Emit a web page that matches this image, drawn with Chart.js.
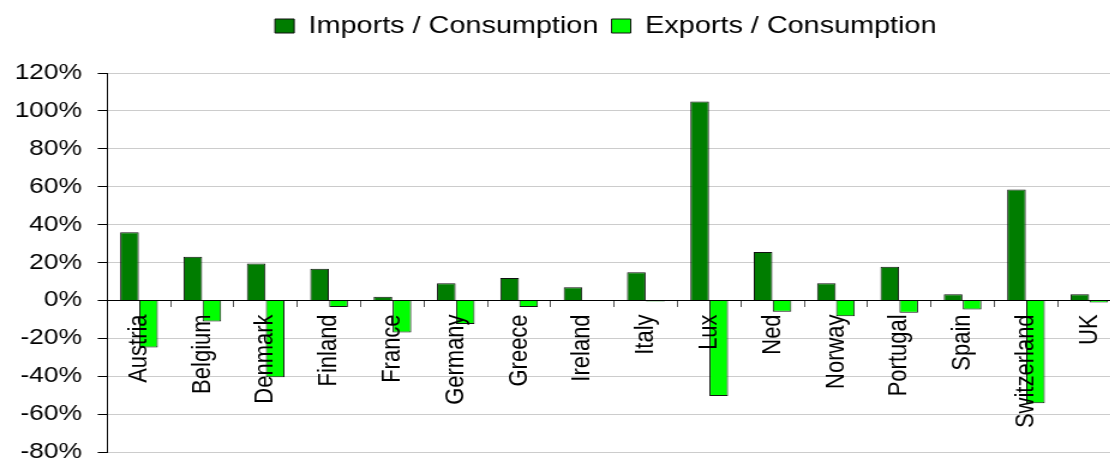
<!DOCTYPE html>
<html>
<head>
<meta charset="utf-8">
<script src="https://cdn.jsdelivr.net/npm/chart.js@4/dist/chart.umd.min.js"></script>
<style>
  html, body { margin: 0; padding: 0; background: #fff; overflow: hidden; }
  #tradeChart { display: block; }
</style>
</head>
<body>
<!-- the original picture is stretched sideways, so the canvas is drawn narrow and widened by css -->
<canvas id="tradeChart" width="934" height="461" style="width:1120.8px;height:461px"></canvas>
<script>
const countries = ["Austria", "Belgium", "Denmark", "Finland", "France", "Germany", "Greece", "Ireland",
    "Italy", "Lux", "Ned", "Norway", "Portugal", "Spain", "Switzerland", "UK"];

// percent of consumption
const importsShare = [36, 23, 19.5, 16.7, 1.9, 9.1, 11.8, 6.9, 14.8, 104.9, 25.6, 9.1, 17.7, 3.2, 58.5, 3.2];
const exportsShare = [-24.8, -11.1, -40.6, -3.5, -16.9, -12.5, -3.5, 0, -0.6, -50.5, -6, -8.3, -6.5, -4.8, -54.3, -1.1];

// y axis ticks
const yMin = -80;
const yMax = 120;
const yStep = 20;

const FONT = "'Liberation Sans', Arial, Helvetica, sans-serif";

// extra room under the legend, and nudge it a bit left
const legendTweak = {
    id: "legendTweak",
    beforeInit(chart) {
        const fit = chart.legend.fit;
        chart.legend.fit = function () {
            fit.call(this);
            this.height += 25;
        };
    },
    afterLayout(chart) {
        chart.legend.left -= 7;
        chart.legend.right -= 7;
    },
};

const ctx = document.getElementById("tradeChart").getContext("2d");

new Chart(ctx, {
    type: "bar",
    data: {
        labels: countries,
        datasets: [
            {
                label: "Imports / Consumption",
                data: importsShare,
                backgroundColor: "#007d00",
                borderColor: "#111",
                borderWidth: 1,
            },
            {
                label: "Exports / Consumption",
                data: exportsShare,
                backgroundColor: "#00ff00",
                borderColor: "#111",
                borderWidth: 1,
            },
        ],
    },
    plugins: [legendTweak],
    options: {
        responsive: false,
        maintainAspectRatio: false,
        devicePixelRatio: 1,
        animation: false,
        layout: { padding: { top: 3, right: 0, bottom: 9, left: 0 } },
        datasets: {
            bar: { categoryPercentage: 0.6, barPercentage: 0.98 },
        },
        plugins: {
            tooltip: { enabled: false },
            legend: {
                position: "top",
                fullSize: false,
                labels: {
                    color: "#000",
                    font: { family: FONT, size: 24 },
                    boxWidth: 16,
                    boxHeight: 14,
                    padding: 11,
                },
            },
        },
        scales: {
            x: {
                position: { y: 0 },
                border: { display: true, color: "#000", width: 1, z: 1 },
                grid: {
                    display: true,
                    offset: true,
                    drawOnChartArea: false,
                    drawTicks: true,
                    tickLength: 6,
                    tickColor: "#555",
                },
                ticks: {
                    // country names sit on top of the bars
                    z: 1,
                    color: "#000",
                    font: { family: FONT, size: 22 },
                    minRotation: 90,
                    maxRotation: 90,
                    autoSkip: false,
                    padding: 8,
                },
                afterFit(scale) {
                    scale.paddingLeft = 0;
                    scale.paddingRight = 0;
                },
            },
            y: {
                min: yMin,
                max: yMax,
                border: { display: true, color: "#000", width: 1 },
                grid: {
                    color: "#cccccc",
                    lineWidth: 1,
                    tickLength: 8,
                    tickColor: "#000",
                },
                ticks: {
                    stepSize: yStep,
                    color: "#000",
                    font: { family: FONT, size: 22 },
                    padding: 13,
                    callback: (v) => v + "%",
                },
                afterFit(scale) {
                    scale.width = 89.4;
                    scale.paddingTop = 0;
                    scale.paddingBottom = 0;
                },
            },
        },
    },
});
</script>
</body>
</html>
